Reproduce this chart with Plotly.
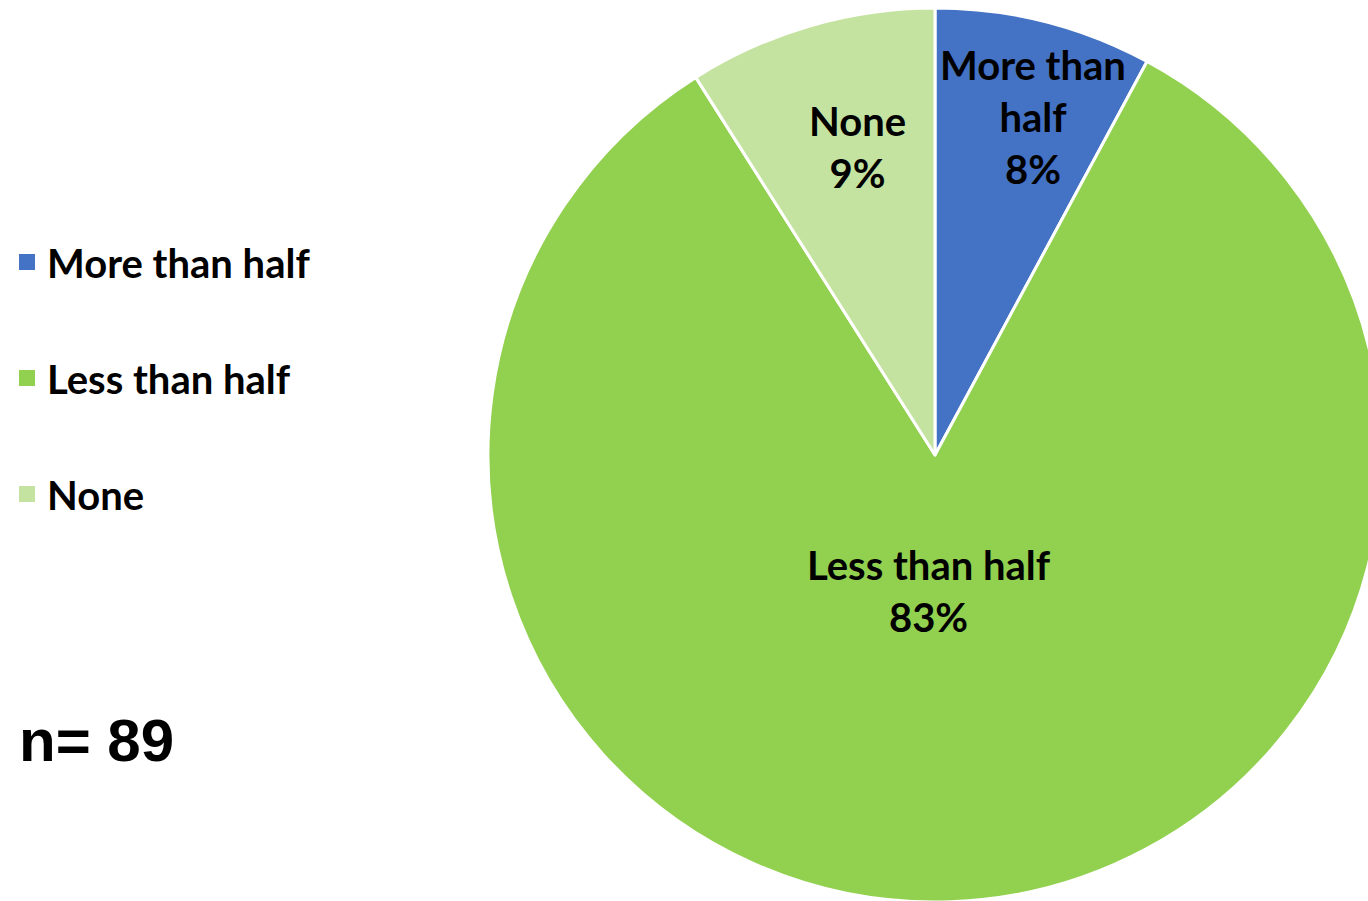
import math
import plotly.graph_objects as go

categories = ["More than half", "Less than half", "None"]
counts = [7, 74, 8]
colors = ["#4472C4", "#92D050", "#C5E3A0"]
pie_text = ["More than<br>half", "Less than half", "None"]
label_radius = [0.78, 0.31, 0.71]   # fraction of radius where each data label sits
label_shift_x = [13, -11, 11]       # small horizontal nudges (px) for label placement
label_shift_y = [0, -2, -3]
n_total = 89

W, H = 1384, 904
FONT = "Lato"
X0, X1, YT, YB = 488, 1382, 8, 902  # pie domain in pixels
cx, cy = (X0 + X1) / 2, (YT + YB) / 2
R = min(X1 - X0, YB - YT) / 2

fig = go.Figure()
fig.add_trace(go.Pie(
    labels=categories,
    values=counts,
    sort=False,
    direction="clockwise",
    rotation=0,
    marker=dict(colors=colors, line=dict(color="white", width=3)),
    textinfo="none",
    hoverinfo="label+value+percent",
    showlegend=False,
    domain=dict(x=[X0 / W, X1 / W], y=[1 - YB / H, 1 - YT / H]),
))

# legend entries (square swatches)
for i, (c, col) in enumerate(zip(categories, colors)):
    fig.add_trace(go.Scatter(
        x=[None], y=[None], mode="markers", name=c,
        marker=dict(symbol="square", size=16, color=col),
        legendgroup=f"g{i}", showlegend=True, hoverinfo="skip",
    ))

# data labels placed at each slice's mid-angle
total = sum(counts)
annotations = []
cum = 0
for v, t, rf, sx, sy in zip(counts, pie_text, label_radius, label_shift_x, label_shift_y):
    mid = (cum + v / 2) / total * 2 * math.pi
    cum += v
    px = cx + rf * R * math.sin(mid) + sx
    py = cy - rf * R * math.cos(mid) + sy
    pct = round(v / total * 100)
    annotations.append(dict(
        text=f"{t}<br>{pct}%", x=px / W, y=1 - py / H, xref="paper", yref="paper",
        xanchor="center", yanchor="middle", showarrow=False, align="center",
        font=dict(family=FONT, size=40, color="black", weight="bold"),
    ))

annotations.append(dict(
    text=f"n= {n_total}", x=17 / W, y=1 - 740 / H, xref="paper", yref="paper",
    xanchor="left", yanchor="middle", showarrow=False,
    font=dict(family="Liberation Sans", size=60, color="black", weight="bold"),
))

fig.update_layout(
    width=W, height=H,
    margin=dict(l=0, r=0, t=0, b=0),
    paper_bgcolor="white",
    plot_bgcolor="white",
    xaxis=dict(visible=False),
    yaxis=dict(visible=False),
    showlegend=True,
    legend=dict(
        x=7 / W, xanchor="left",
        y=1 - 378 / H, yanchor="middle",
        font=dict(family=FONT, size=40, color="black", weight="bold"),
        bgcolor="rgba(0,0,0,0)",
        tracegroupgap=61,
        itemclick=False, itemdoubleclick=False,
    ),
    annotations=annotations,
)

fig.write_html(
    "out.html",
    post_script="document.documentElement.style.overflow='hidden';document.body.style.overflow='hidden';document.body.style.margin='0';",
)
